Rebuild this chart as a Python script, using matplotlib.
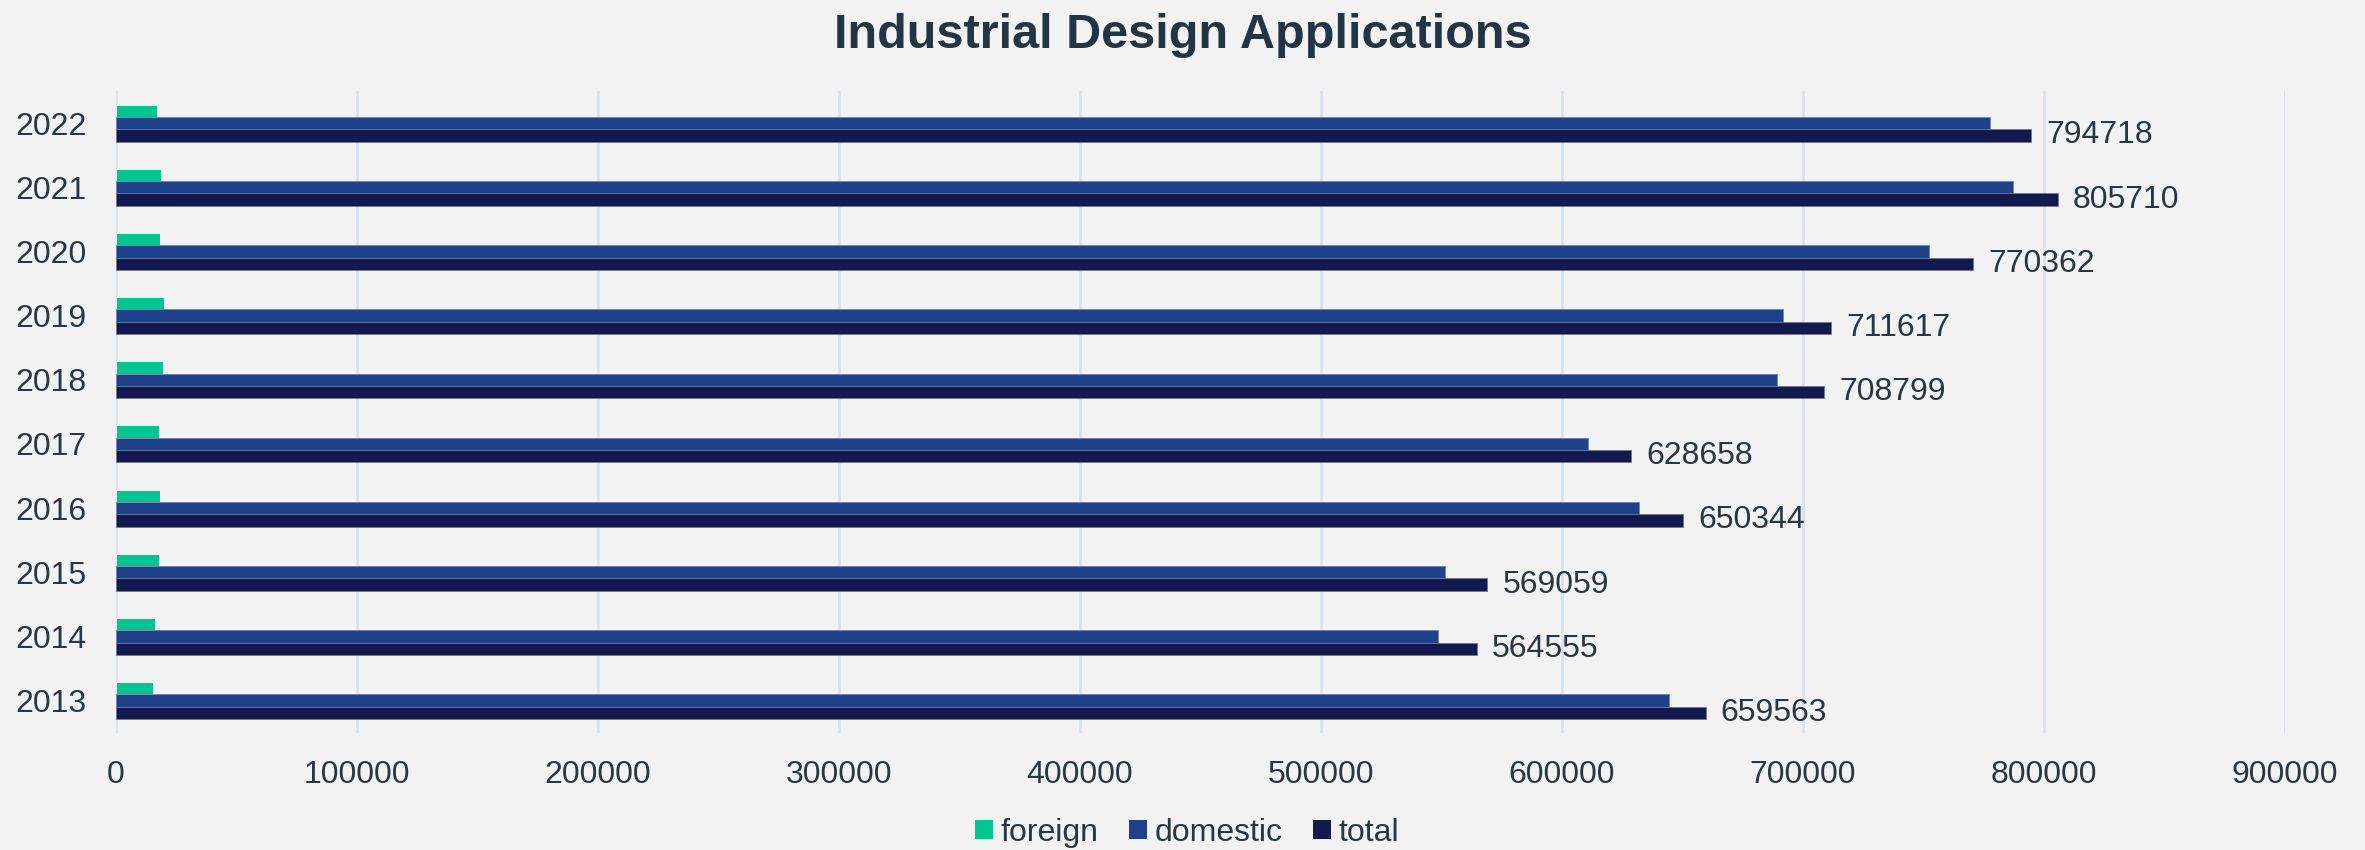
import matplotlib
matplotlib.use('Agg')
import matplotlib.pyplot as plt
from matplotlib.patches import Patch
import numpy as np

years = ['2013', '2014', '2015', '2016', '2017', '2018', '2019', '2020', '2021', '2022']
foreign = [15200, 16200, 17700, 18400, 17800, 19600, 19900, 18300, 18700, 17000]
domestic = [644363, 548355, 551359, 631944, 610858, 689199, 691717, 752062, 787010, 777718]
total = [659563, 564555, 569059, 650344, 628658, 708799, 711617, 770362, 805710, 794718]

series_names = ['foreign', 'domestic', 'total']
colors = ['#00c58f', '#1e4189', '#13194c']
text_color = '#283746'
bg = '#f2f2f2'

plt.rcParams['font.family'] = ['Liberation Sans', 'DejaVu Sans']

fig = plt.figure(figsize=(23.65, 8.5), dpi=100, facecolor=bg)
ax = fig.add_axes([0.049, 0.138, 0.9172, 0.755], facecolor=bg)

y = np.arange(len(years))
h = 0.192
ax.barh(y + h, foreign, height=h, color=colors[0], edgecolor='#ffffff', linewidth=0.6, zorder=3)
ax.barh(y, domestic, height=h, color=colors[1], edgecolor='#6f84b0', linewidth=0.6, zorder=3)
bars = ax.barh(y - h, total, height=h, color=colors[2], edgecolor='#6f7596', linewidth=0.6, zorder=3)

# value labels only on the total bars
ax.bar_label(bars, labels=[str(v) for v in total], padding=11, fontsize=23,
             color=text_color)

ax.set_xlim(0, 900000)
ax.set_ylim(-0.5, len(years) - 0.5)
ax.set_xticks(np.arange(0, 900001, 100000))
ax.set_yticks(y)
ax.set_yticklabels(years)
ax.tick_params(axis='x', length=0, pad=20, labelsize=23, labelcolor=text_color)
ax.tick_params(axis='y', length=0, pad=21, labelsize=23, labelcolor=text_color)
ax.grid(axis='x', color='#d9e3ec', linewidth=2, zorder=0)
ax.grid(axis='y', visible=False)
for s in ax.spines.values():
    s.set_visible(False)

fig.text(0.5, 0.958, 'Industrial Design Applications', ha='center', va='center',
         fontsize=35, fontweight='bold', color='#233445')

handles = [Patch(facecolor=c, edgecolor='none') for c in colors]
fig.legend(handles, series_names, loc='center', bbox_to_anchor=(0.502, 0.02),
           ncol=3, frameon=False, fontsize=23, labelcolor=text_color,
           handlelength=0.55, handleheight=0.55, handletextpad=0.25,
           columnspacing=0.95, borderaxespad=0)

fig.savefig('out.png', dpi=100, facecolor=bg)
